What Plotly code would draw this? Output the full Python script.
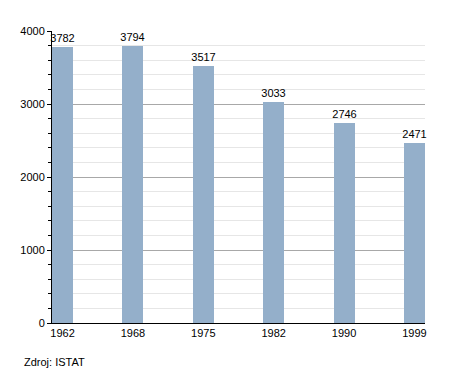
import plotly.graph_objects as go

years = ["1962", "1968", "1975", "1982", "1990", "1999"]
population = [3782, 3794, 3517, 3033, 2746, 2471]
y_ticks = [0, 1000, 2000, 3000, 4000]

BAR_W = 0.3
pos = list(range(len(years)))

fig = go.Figure(go.Bar(
    x=pos, y=population, width=BAR_W, offset=0,
    marker=dict(color="#94afca", line=dict(width=0)),
    text=[str(v) for v in population], textposition="outside",
    textfont=dict(size=11, color="black"), cliponaxis=False,
    constraintext="none",
))

fig.update_layout(
    width=447, height=365,
    margin=dict(l=42, r=30, t=23, b=50),
    paper_bgcolor="white", plot_bgcolor="white",
    font=dict(family="Liberation Sans, Arial, sans-serif", size=11, color="black"),
    showlegend=False, bargap=0,
    xaxis=dict(
        range=[0, len(years) - 1 + BAR_W],
        tickvals=[p + BAR_W / 2 for p in pos], ticktext=years,
        showgrid=False, zeroline=False, showline=True, linecolor="black", linewidth=1,
        ticks="", tickfont=dict(size=11),
    ),
    yaxis=dict(
        range=[0, 4000], tickvals=y_ticks,
        showgrid=True, gridcolor="#a8a8a8", gridwidth=1,
        zeroline=False, showline=True, linecolor="black", linewidth=1,
        ticks="outside", ticklen=4, tickcolor="black",
        minor=dict(dtick=200, showgrid=True, gridcolor="#e6e6e6", ticks="outside",
                   ticklen=3, tickcolor="black"),
        tickfont=dict(size=11),
    ),
    annotations=[dict(
        text="Zdroj: ISTAT", xref="paper", yref="paper",
        x=-30 / 375, y=-39 / 292, xanchor="left", yanchor="middle",
        showarrow=False, font=dict(size=11, color="black"),
    )],
)

fig.write_html("out.html")
